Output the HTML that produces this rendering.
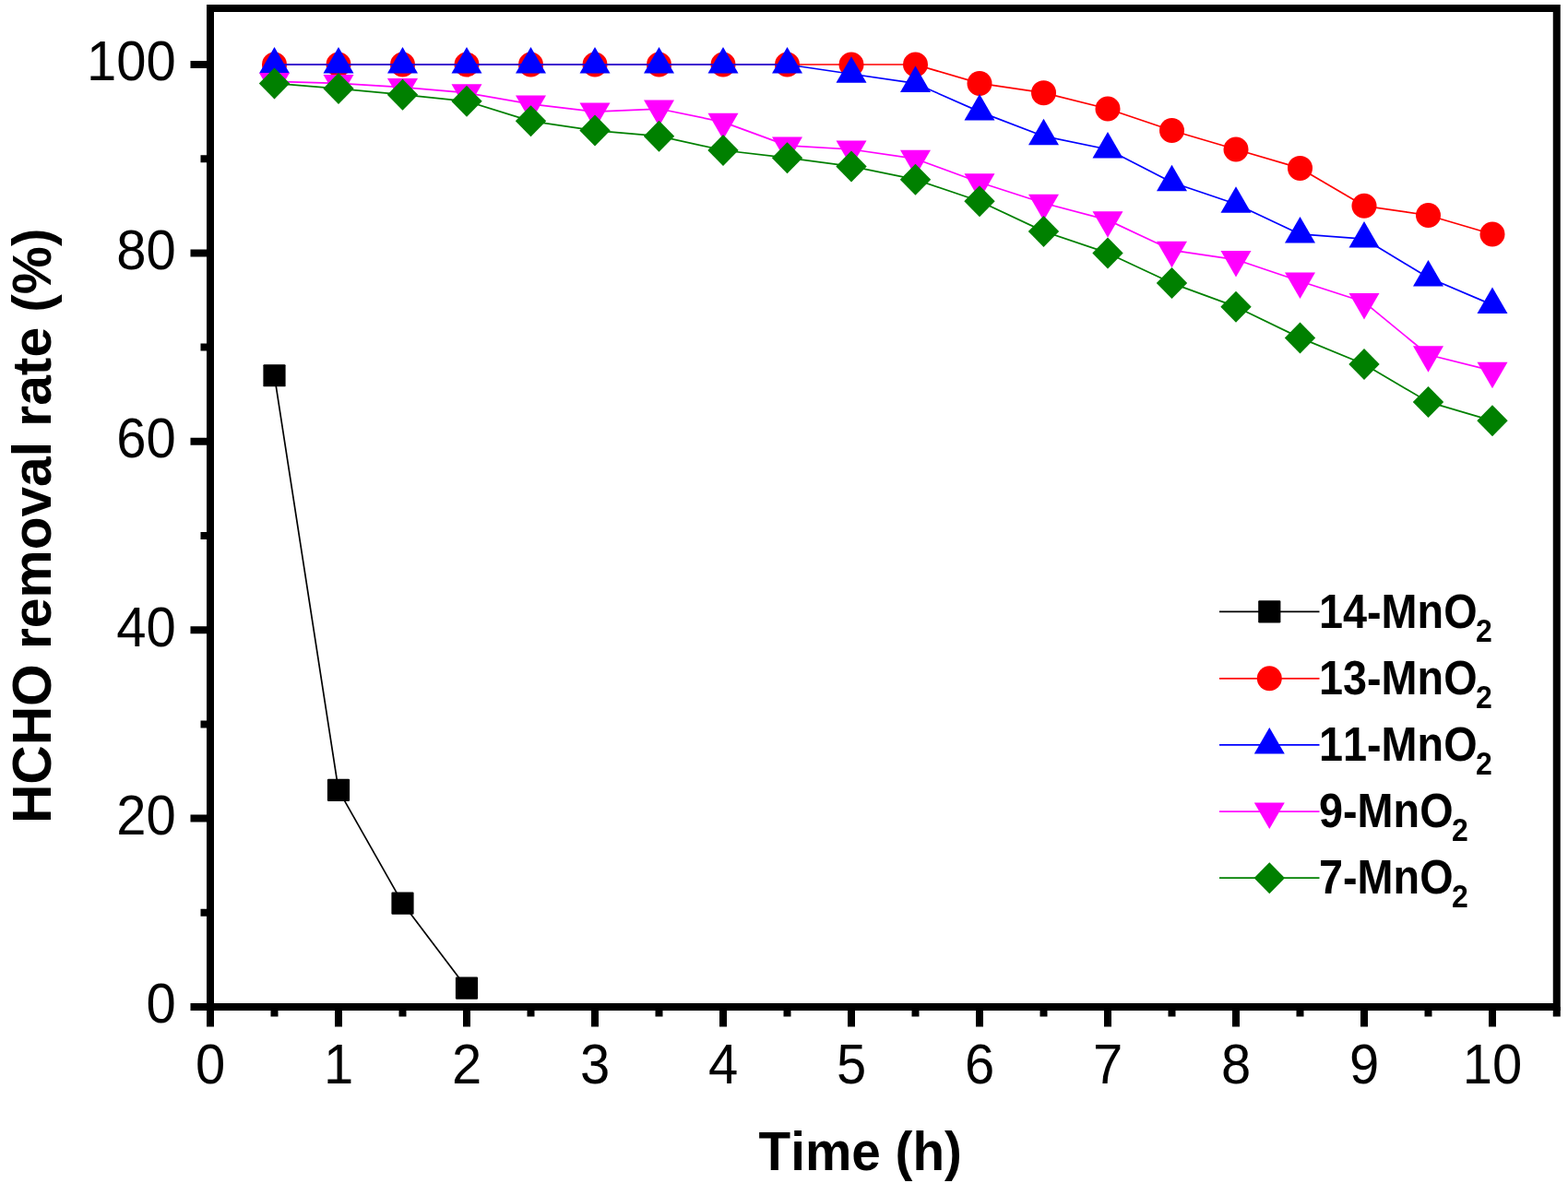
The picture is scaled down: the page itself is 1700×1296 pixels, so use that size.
<!DOCTYPE html>
<html><head><meta charset="utf-8"><title>HCHO removal rate</title>
<style>
html,body{margin:0;padding:0;background:#fff;width:1700px;height:1296px;overflow:hidden}
svg{display:block}
text{font-family:"Liberation Sans",Arial,sans-serif;fill:#000;font-kerning:none}
.tl{font-size:58px}
.ti{font-size:56.7px;font-weight:bold}
.yt{font-size:58.7px;font-weight:bold}
.lg{font-size:46.8px;font-weight:bold}
.sub{font-size:32px}
</style></head><body>
<svg width="1700" height="1296" viewBox="0 0 1700 1296">
<rect width="1700" height="1296" fill="#fff"/>
<polyline points="297.5,407.26 367,856.94 436.5,979.58 506,1071.56" fill="none" stroke="#000000" stroke-width="1.7" stroke-linejoin="round"/>
<rect x="285.4" y="395.16" width="24.2" height="24.2" rx="1.2" fill="#000000"/>
<rect x="354.9" y="844.84" width="24.2" height="24.2" rx="1.2" fill="#000000"/>
<rect x="424.4" y="967.48" width="24.2" height="24.2" rx="1.2" fill="#000000"/>
<rect x="493.9" y="1059.46" width="24.2" height="24.2" rx="1.2" fill="#000000"/>
<polyline points="297.5,70 367,70 436.5,70 506,70 575.5,70 645,70 714.5,70 784,70 853.5,70 923,70 992.5,70 1062,90.44 1131.5,100.66 1201,118.03 1270.5,141.54 1340,161.98 1409.5,182.42 1479,223.3 1548.5,233.52 1618,253.96" fill="none" stroke="#ff0000" stroke-width="1.7" stroke-linejoin="round"/>
<circle cx="297.5" cy="70" r="13.5" fill="#ff0000"/>
<circle cx="367" cy="70" r="13.5" fill="#ff0000"/>
<circle cx="436.5" cy="70" r="13.5" fill="#ff0000"/>
<circle cx="506" cy="70" r="13.5" fill="#ff0000"/>
<circle cx="575.5" cy="70" r="13.5" fill="#ff0000"/>
<circle cx="645" cy="70" r="13.5" fill="#ff0000"/>
<circle cx="714.5" cy="70" r="13.5" fill="#ff0000"/>
<circle cx="784" cy="70" r="13.5" fill="#ff0000"/>
<circle cx="853.5" cy="70" r="13.5" fill="#ff0000"/>
<circle cx="923" cy="70" r="13.5" fill="#ff0000"/>
<circle cx="992.5" cy="70" r="13.5" fill="#ff0000"/>
<circle cx="1062" cy="90.44" r="13.5" fill="#ff0000"/>
<circle cx="1131.5" cy="100.66" r="13.5" fill="#ff0000"/>
<circle cx="1201" cy="118.03" r="13.5" fill="#ff0000"/>
<circle cx="1270.5" cy="141.54" r="13.5" fill="#ff0000"/>
<circle cx="1340" cy="161.98" r="13.5" fill="#ff0000"/>
<circle cx="1409.5" cy="182.42" r="13.5" fill="#ff0000"/>
<circle cx="1479" cy="223.3" r="13.5" fill="#ff0000"/>
<circle cx="1548.5" cy="233.52" r="13.5" fill="#ff0000"/>
<circle cx="1618" cy="253.96" r="13.5" fill="#ff0000"/>
<polyline points="297.5,70 367,70 436.5,70 506,70 575.5,70 645,70 714.5,70 784,70 853.5,70 923,80.22 992.5,90.44 1062,121.1 1131.5,147.67 1201,161.98 1270.5,197.75 1340,221.26 1409.5,253.96 1479,259.07 1548.5,300.97 1618,330.61" fill="none" stroke="#0000ff" stroke-width="1.7" stroke-linejoin="round"/>
<path d="M297.5 51L314 79.5L281 79.5Z" fill="#0000ff"/>
<path d="M367 51L383.5 79.5L350.5 79.5Z" fill="#0000ff"/>
<path d="M436.5 51L453 79.5L420 79.5Z" fill="#0000ff"/>
<path d="M506 51L522.5 79.5L489.5 79.5Z" fill="#0000ff"/>
<path d="M575.5 51L592 79.5L559 79.5Z" fill="#0000ff"/>
<path d="M645 51L661.5 79.5L628.5 79.5Z" fill="#0000ff"/>
<path d="M714.5 51L731 79.5L698 79.5Z" fill="#0000ff"/>
<path d="M784 51L800.5 79.5L767.5 79.5Z" fill="#0000ff"/>
<path d="M853.5 51L870 79.5L837 79.5Z" fill="#0000ff"/>
<path d="M923 61.22L939.5 89.72L906.5 89.72Z" fill="#0000ff"/>
<path d="M992.5 71.44L1009 99.94L976 99.94Z" fill="#0000ff"/>
<path d="M1062 102.1L1078.5 130.6L1045.5 130.6Z" fill="#0000ff"/>
<path d="M1131.5 128.67L1148 157.17L1115 157.17Z" fill="#0000ff"/>
<path d="M1201 142.98L1217.5 171.48L1184.5 171.48Z" fill="#0000ff"/>
<path d="M1270.5 178.75L1287 207.25L1254 207.25Z" fill="#0000ff"/>
<path d="M1340 202.26L1356.5 230.76L1323.5 230.76Z" fill="#0000ff"/>
<path d="M1409.5 234.96L1426 263.46L1393 263.46Z" fill="#0000ff"/>
<path d="M1479 240.07L1495.5 268.57L1462.5 268.57Z" fill="#0000ff"/>
<path d="M1548.5 281.97L1565 310.47L1532 310.47Z" fill="#0000ff"/>
<path d="M1618 311.61L1634.5 340.11L1601.5 340.11Z" fill="#0000ff"/>
<polyline points="297.5,88.4 367,90.44 436.5,94.53 506,100.66 575.5,112.92 645,121.1 714.5,118.03 784,132.34 853.5,157.89 923,161.98 992.5,172.2 1062,197.75 1131.5,220.23 1201,238.63 1270.5,271.33 1340,281.55 1409.5,305.06 1479,327.54 1548.5,384.78 1618,402.15" fill="none" stroke="#ff00ff" stroke-width="1.7" stroke-linejoin="round"/>
<path d="M281 78.9L314 78.9L297.5 107.4Z" fill="#ff00ff"/>
<path d="M350.5 80.94L383.5 80.94L367 109.44Z" fill="#ff00ff"/>
<path d="M420 85.03L453 85.03L436.5 113.53Z" fill="#ff00ff"/>
<path d="M489.5 91.16L522.5 91.16L506 119.66Z" fill="#ff00ff"/>
<path d="M559 103.42L592 103.42L575.5 131.92Z" fill="#ff00ff"/>
<path d="M628.5 111.6L661.5 111.6L645 140.1Z" fill="#ff00ff"/>
<path d="M698 108.53L731 108.53L714.5 137.03Z" fill="#ff00ff"/>
<path d="M767.5 122.84L800.5 122.84L784 151.34Z" fill="#ff00ff"/>
<path d="M837 148.39L870 148.39L853.5 176.89Z" fill="#ff00ff"/>
<path d="M906.5 152.48L939.5 152.48L923 180.98Z" fill="#ff00ff"/>
<path d="M976 162.7L1009 162.7L992.5 191.2Z" fill="#ff00ff"/>
<path d="M1045.5 188.25L1078.5 188.25L1062 216.75Z" fill="#ff00ff"/>
<path d="M1115 210.73L1148 210.73L1131.5 239.23Z" fill="#ff00ff"/>
<path d="M1184.5 229.13L1217.5 229.13L1201 257.63Z" fill="#ff00ff"/>
<path d="M1254 261.83L1287 261.83L1270.5 290.33Z" fill="#ff00ff"/>
<path d="M1323.5 272.05L1356.5 272.05L1340 300.55Z" fill="#ff00ff"/>
<path d="M1393 295.56L1426 295.56L1409.5 324.06Z" fill="#ff00ff"/>
<path d="M1462.5 318.04L1495.5 318.04L1479 346.54Z" fill="#ff00ff"/>
<path d="M1532 375.28L1565 375.28L1548.5 403.78Z" fill="#ff00ff"/>
<path d="M1601.5 392.65L1634.5 392.65L1618 421.15Z" fill="#ff00ff"/>
<polyline points="297.5,90.44 367,96.06 436.5,102.7 506,109.86 575.5,131.32 645,141.54 714.5,147.67 784,163 853.5,171.18 923,180.38 992.5,194.68 1062,218.19 1131.5,250.89 1201,274.4 1270.5,307.1 1340,332.65 1409.5,366.38 1479,395 1548.5,435.88 1618,456.32" fill="none" stroke="#008000" stroke-width="1.7" stroke-linejoin="round"/>
<path d="M297.5 73.44L314.2 90.44L297.5 107.44L280.8 90.44Z" fill="#008000"/>
<path d="M367 79.06L383.7 96.06L367 113.06L350.3 96.06Z" fill="#008000"/>
<path d="M436.5 85.7L453.2 102.7L436.5 119.7L419.8 102.7Z" fill="#008000"/>
<path d="M506 92.86L522.7 109.86L506 126.86L489.3 109.86Z" fill="#008000"/>
<path d="M575.5 114.32L592.2 131.32L575.5 148.32L558.8 131.32Z" fill="#008000"/>
<path d="M645 124.54L661.7 141.54L645 158.54L628.3 141.54Z" fill="#008000"/>
<path d="M714.5 130.67L731.2 147.67L714.5 164.67L697.8 147.67Z" fill="#008000"/>
<path d="M784 146L800.7 163L784 180L767.3 163Z" fill="#008000"/>
<path d="M853.5 154.18L870.2 171.18L853.5 188.18L836.8 171.18Z" fill="#008000"/>
<path d="M923 163.38L939.7 180.38L923 197.38L906.3 180.38Z" fill="#008000"/>
<path d="M992.5 177.68L1009.2 194.68L992.5 211.68L975.8 194.68Z" fill="#008000"/>
<path d="M1062 201.19L1078.7 218.19L1062 235.19L1045.3 218.19Z" fill="#008000"/>
<path d="M1131.5 233.89L1148.2 250.89L1131.5 267.89L1114.8 250.89Z" fill="#008000"/>
<path d="M1201 257.4L1217.7 274.4L1201 291.4L1184.3 274.4Z" fill="#008000"/>
<path d="M1270.5 290.1L1287.2 307.1L1270.5 324.1L1253.8 307.1Z" fill="#008000"/>
<path d="M1340 315.65L1356.7 332.65L1340 349.65L1323.3 332.65Z" fill="#008000"/>
<path d="M1409.5 349.38L1426.2 366.38L1409.5 383.38L1392.8 366.38Z" fill="#008000"/>
<path d="M1479 378L1495.7 395L1479 412L1462.3 395Z" fill="#008000"/>
<path d="M1548.5 418.88L1565.2 435.88L1548.5 452.88L1531.8 435.88Z" fill="#008000"/>
<path d="M1618 439.32L1634.7 456.32L1618 473.32L1601.3 456.32Z" fill="#008000"/>
<rect x="228" y="9" width="1459.75" height="1083" fill="none" stroke="#000" stroke-width="8"/>
<path d="M228 1092V1113.6M367 1092V1113.6M506 1092V1113.6M645 1092V1113.6M784 1092V1113.6M923 1092V1113.6M1062 1092V1113.6M1201 1092V1113.6M1340 1092V1113.6M1479 1092V1113.6M1618 1092V1113.6M297.5 1092V1102.4M436.5 1092V1102.4M575.5 1092V1102.4M714.5 1092V1102.4M853.5 1092V1102.4M992.5 1092V1102.4M1131.5 1092V1102.4M1270.5 1092V1102.4M1409.5 1092V1102.4M1548.5 1092V1102.4M1687.75 1092V1102.4M206.5 1092H228M206.5 887.6H228M206.5 683.2H228M206.5 478.8H228M206.5 274.4H228M206.5 70H228M217.5 989.8H228M217.5 785.4H228M217.5 581H228M217.5 376.6H228M217.5 172.2H228" stroke="#000" stroke-width="8" fill="none"/>
<text transform="translate(190.8 1109.3) scale(1 1.045)" text-anchor="end" class="tl">0</text>
<text transform="translate(190.8 904.9) scale(1 1.045)" text-anchor="end" class="tl">20</text>
<text transform="translate(190.8 700.5) scale(1 1.045)" text-anchor="end" class="tl">40</text>
<text transform="translate(190.8 496.1) scale(1 1.045)" text-anchor="end" class="tl">60</text>
<text transform="translate(190.8 291.7) scale(1 1.045)" text-anchor="end" class="tl">80</text>
<text transform="translate(190.8 87.3) scale(1 1.045)" text-anchor="end" class="tl">100</text>
<text transform="translate(228 1174.7) scale(1 1.045)" text-anchor="middle" class="tl">0</text>
<text transform="translate(367 1174.7) scale(1 1.045)" text-anchor="middle" class="tl">1</text>
<text transform="translate(506 1174.7) scale(1 1.045)" text-anchor="middle" class="tl">2</text>
<text transform="translate(645 1174.7) scale(1 1.045)" text-anchor="middle" class="tl">3</text>
<text transform="translate(784 1174.7) scale(1 1.045)" text-anchor="middle" class="tl">4</text>
<text transform="translate(923 1174.7) scale(1 1.045)" text-anchor="middle" class="tl">5</text>
<text transform="translate(1062 1174.7) scale(1 1.045)" text-anchor="middle" class="tl">6</text>
<text transform="translate(1201 1174.7) scale(1 1.045)" text-anchor="middle" class="tl">7</text>
<text transform="translate(1340 1174.7) scale(1 1.045)" text-anchor="middle" class="tl">8</text>
<text transform="translate(1479 1174.7) scale(1 1.045)" text-anchor="middle" class="tl">9</text>
<text transform="translate(1618 1174.7) scale(1 1.045)" text-anchor="middle" class="tl">10</text>
<text transform="translate(822.5 1268.7) scale(1 1.055)" class="ti">Time (h)</text>
<text transform="translate(54.9 893.1) rotate(-90) scale(1 1.015)" class="yt">HCHO removal rate (%)</text>
<path d="M1322 663.3H1430.5" stroke="#000000" stroke-width="1.7"/>
<rect x="1364.2" y="651.2" width="24.2" height="24.2" rx="1.2" fill="#000000"/>
<text transform="translate(1430 680.5) scale(1 1.09)" class="lg">14-MnO<tspan class="sub" dx="-1.5" dy="13.76">2</tspan></text>
<path d="M1322 735.8H1430.5" stroke="#ff0000" stroke-width="1.7"/>
<circle cx="1376.3" cy="735.8" r="13.5" fill="#ff0000"/>
<text transform="translate(1430 753) scale(1 1.09)" class="lg">13-MnO<tspan class="sub" dx="-1.5" dy="13.76">2</tspan></text>
<path d="M1322 807.9H1430.5" stroke="#0000ff" stroke-width="1.7"/>
<path d="M1376.3 788.9L1392.8 817.4L1359.8 817.4Z" fill="#0000ff"/>
<text transform="translate(1430 825.1) scale(1 1.09)" class="lg">11-MnO<tspan class="sub" dx="-1.5" dy="13.76">2</tspan></text>
<path d="M1322 880.1H1430.5" stroke="#ff00ff" stroke-width="1.7"/>
<path d="M1359.8 870.6L1392.8 870.6L1376.3 899.1Z" fill="#ff00ff"/>
<text transform="translate(1430 897.3) scale(1 1.09)" class="lg">9-MnO<tspan class="sub" dx="-1.5" dy="13.76">2</tspan></text>
<path d="M1322 952.2H1430.5" stroke="#008000" stroke-width="1.7"/>
<path d="M1376.3 935.2L1393 952.2L1376.3 969.2L1359.6 952.2Z" fill="#008000"/>
<text transform="translate(1430 969.4) scale(1 1.09)" class="lg">7-MnO<tspan class="sub" dx="-1.5" dy="13.76">2</tspan></text>
</svg>
</body></html>
